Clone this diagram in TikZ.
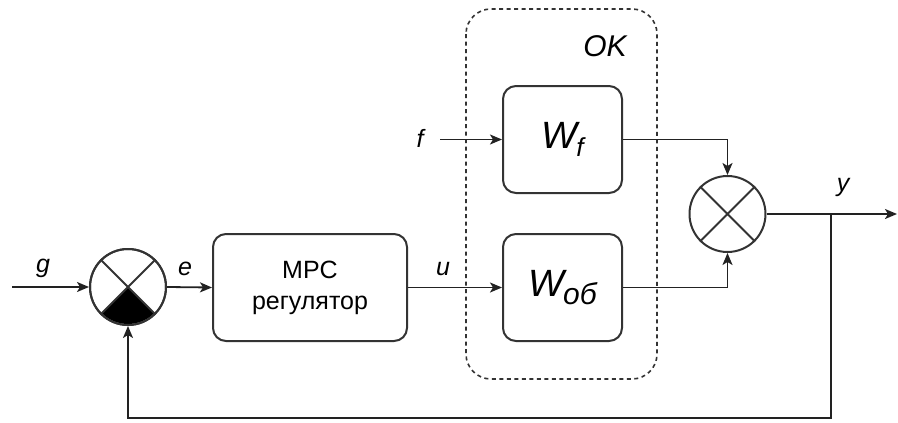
\documentclass[tikz,border=0pt]{standalone}
\usepackage{fontspec}
\setmainfont{Liberation Sans}
\usetikzlibrary{arrows.meta,calc}
\definecolor{ln}{HTML}{222222}
\definecolor{bd}{HTML}{333333}
\begin{document}
\begin{tikzpicture}[x=1pt,y=-1pt,
  blk/.style={draw=bd,line width=2pt,rounded corners=13pt,fill=white,inner sep=0pt,align=center},
  sumj/.style={draw=bd,line width=2pt,circle,minimum size=76pt,inner sep=0pt,fill=white},
  arr/.style={draw=ln,line width=1.8pt,-{Stealth[length=12pt,width=10pt,inset=3pt]}},
  lbl/.style={font=\fontsize{25}{30}\selectfont\itshape,inner sep=0pt}]
\useasboundingbox (0,0) rectangle (898,423);
% dashed OK box
\draw[bd,line width=1.6pt,dash pattern=on 4pt off 3.5pt,rounded corners=25pt] (466,9) rectangle (657,379);
\node[lbl,font=\fontsize{30}{34}\selectfont\itshape] (ok) at (605,46) {OK};
% blocks
\node[blk,minimum width=194pt,minimum height=107pt,font=\fontsize{25}{31}\selectfont] (mpc) at (310,287.5) {MPC\\регулятор};
\node[blk,minimum width=119pt,minimum height=107pt] (wf) at (562.5,139.5) {\fontsize{38}{40}\selectfont\itshape W\kern-1pt\raisebox{-8pt}{\fontsize{26}{28}\selectfont f}};
\node[blk,minimum width=119pt,minimum height=107pt] (wob) at (562.5,287.5) {\fontsize{38}{40}\selectfont\itshape W\kern-1pt\raisebox{-8pt}{\fontsize{30}{32}\selectfont об}};
% summing junctions
\node[sumj] (s1) at (128,287) {};
\begin{scope}
\clip (s1.center) circle[radius=37pt];
\fill[black] (s1.center) -- ++(-60,60) -- ++(120,0) -- cycle;
\end{scope}
\draw[bd,line width=2pt] (s1.center) circle[radius=38pt];
\draw[bd,line width=1.8pt] (s1.45) -- (s1.225) (s1.135) -- (s1.315);
\node[sumj] (s2) at (727.5,214) {};
\draw[bd,line width=1.8pt] (s2.45) -- (s2.225) (s2.135) -- (s2.315);
% coordinates
\coordinate (gin) at (12,287);
\coordinate (fin) at (440,139.5);
\coordinate (br) at (831,214);
\coordinate (yout) at (897,214);
\coordinate (fb) at (831,418);
% connectors
\draw[arr] (gin) -- (s1.west);
\draw[arr] (s1.east) -- (mpc.west);
\draw[arr] (mpc.east) -- (wob.west);
\draw[arr] (fin) -- (wf.west);
\draw[arr] (wf.east) -| (s2.north);
\draw[arr] (wob.east) -| (s2.south);
\draw[arr] (s2.east) -- (yout);
\draw[arr] (br) -- (fb) -| (s1.south);
% labels
\node[lbl] (lg) at (43,268) {g};
\node[lbl] (le) at (185,269) {e};
\node[lbl] (lu) at (443,269) {u};
\node[lbl] (lf) at (420,138) {f};
\node[lbl] (ly) at (843,187) {y};
\end{tikzpicture}
\end{document}
